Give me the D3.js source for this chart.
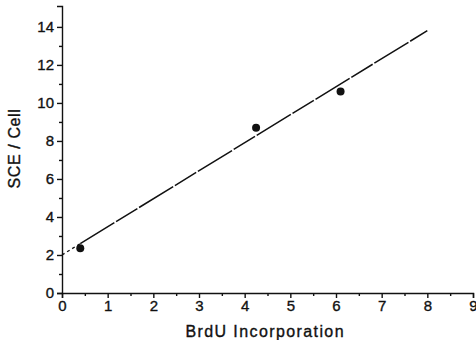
<!DOCTYPE html>
<html>
<head>
<meta charset="utf-8">
<script src="https://cdn.jsdelivr.net/npm/d3@7"></script>
<style>
  body { margin: 0; background: #fff; }
  text { font-family: "Liberation Sans", Arial, sans-serif; fill: #111; stroke: #111; stroke-width: 0.35px; }
</style>
</head>
<body>
<div id="chart"></div>
<script>
// measured points
const brdu = [0.4, 4.25, 6.1];
const sce = [2.35, 8.7, 10.6];
// regression line ends
const fitX = [0, 0.4, 8];
const fitY = [2.0, 2.6, 13.8];
const xTicks = [0, 1, 2, 3, 4, 5, 6, 7, 8, 9];
const yTicks = [0, 2, 4, 6, 8, 10, 12, 14];

const W = 476, H = 340;
const margin = { top: 6, right: 3, bottom: 47, left: 62 };
const width = W - margin.left - margin.right;
const height = H - margin.top - margin.bottom;

const svg = d3.select("#chart").append("svg")
  .attr("width", W).attr("height", H)
  .append("g")
  .attr("transform", `translate(${margin.left},${margin.top})`);

const x = d3.scaleLinear().domain([0, 9]).range([0, width]);
const y = d3.scaleLinear().domain([0, 15.1]).range([height, 0]);

// minor ticks
svg.append("g")
  .attr("transform", `translate(0,${height})`)
  .call(d3.axisBottom(x).tickValues(d3.range(0.5, 9, 1)).tickSize(3).tickFormat(""))
  .call(g => g.select(".domain").remove());
svg.append("g")
  .call(d3.axisLeft(y).tickValues(d3.range(1, 15, 2)).tickSize(3).tickFormat(""))
  .call(g => g.select(".domain").remove());

// x axis
svg.append("g")
  .attr("transform", `translate(0,${height})`)
  .call(d3.axisBottom(x).tickValues(xTicks).tickSize(5).tickPadding(2))
  .call(g => g.selectAll("text").style("font-size", "15px"));

// y axis
svg.append("g")
  .call(d3.axisLeft(y).tickValues(yTicks).tickSize(5).tickPadding(3))
  .call(g => g.selectAll("text").style("font-size", "15px"));

svg.selectAll(".domain, .tick line").attr("stroke", "#111").attr("stroke-width", 1.4);

// fit line
const line = d3.line().x(d => x(d[0])).y(d => y(d[1]));
const pts = fitX.map((v, i) => [v, fitY[i]]);
svg.append("path")
  .attr("d", line(pts.slice(0, 2)))
  .attr("fill", "none").attr("stroke", "#111").attr("stroke-width", 1.3)
  .attr("stroke-dasharray", "3,3");
svg.append("path")
  .attr("d", line(pts.slice(1)))
  .attr("fill", "none").attr("stroke", "#111").attr("stroke-width", 1.5)
  .attr("stroke-dasharray", "40,2,25,2");

// points
svg.selectAll("circle")
  .data(brdu)
  .join("circle")
  .attr("cx", d => x(d))
  .attr("cy", (d, i) => y(sce[i]))
  .attr("r", 4)
  .attr("fill", "#111");

// axis labels
svg.append("text")
  .attr("x", x(4.45)).attr("y", height + 44)
  .attr("text-anchor", "middle")
  .style("font-size", "16px")
  .style("letter-spacing", "1.4px")
  .text("BrdU Incorporation");

svg.append("text")
  .attr("transform", `translate(${-42},${y(7.6)}) rotate(-90)`)
  .attr("text-anchor", "middle")
  .style("font-size", "16px")
  .style("letter-spacing", "0.6px")
  .text("SCE / Cell");
</script>
</body>
</html>
